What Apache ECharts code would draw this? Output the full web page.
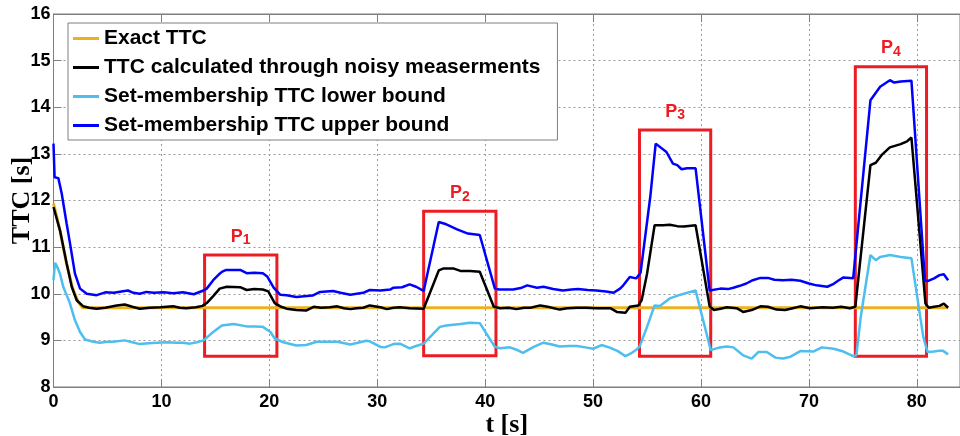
<!DOCTYPE html>
<html>
<head>
<meta charset="utf-8">
<title>TTC</title>
<script src="https://cdn.jsdelivr.net/npm/echarts@6/dist/echarts.min.js"></script>
<style>
  html, body { margin: 0; padding: 0; background: #fff; }
  #main { width: 960px; height: 436px; }
</style>
</head>
<body>
<div id="main"></div>
<script>
// t [s], TTC [s]
var exactTTC = [[0,11.94],[0.6,11.36],[1.2,10.65],[1.8,10.1],[2.3,9.82],[2.7,9.7],[82.9,9.7]];

var noisyTTC = [[0,11.86],[0.6,11.36],[1.22,10.65],[1.69,10.15],[2.15,9.86],[2.76,9.73],[3.3,9.7],[4.0,9.68],[4.8,9.7],[5.86,9.75],[6.6,9.77],[7.3,9.72],[8.0,9.68],[8.9,9.7],[9.9,9.71],[11.1,9.73],[11.7,9.7],[12.3,9.69],[13.2,9.71],[13.8,9.74],[14.2,9.8],[14.8,9.95],[15.4,10.11],[16.05,10.15],[17.3,10.14],[17.9,10.08],[18.6,10.1],[19.4,10.09],[19.9,10.05],[20.5,9.8],[21.1,9.72],[21.6,9.68],[22.5,9.65],[23.4,9.64],[24.1,9.72],[24.8,9.7],[25.6,9.71],[26.3,9.73],[26.9,9.69],[27.5,9.67],[28.1,9.69],[28.7,9.7],[29.3,9.75],[30.3,9.71],[30.9,9.67],[31.5,9.7],[32.1,9.71],[33.0,9.69],[34.3,9.68],[35.7,10.5],[36.1,10.54],[37.1,10.54],[37.7,10.49],[38.6,10.49],[39.5,10.47],[40.8,9.72],[41.4,9.69],[42.2,9.7],[42.9,9.67],[43.6,9.7],[44.2,9.7],[45.1,9.75],[45.8,9.72],[46.9,9.66],[47.6,9.69],[48.5,9.7],[49.4,9.7],[50.3,9.69],[51.6,9.69],[52.2,9.61],[53.0,9.59],[53.4,9.72],[54.2,9.75],[54.5,9.86],[55.0,10.43],[55.7,11.47],[56.5,11.47],[57.1,11.48],[57.8,11.45],[58.4,11.44],[59.5,11.47],[60.8,9.73],[61.2,9.65],[61.8,9.68],[62.4,9.71],[63.3,9.69],[63.9,9.61],[64.7,9.65],[65.5,9.73],[66.2,9.72],[67.0,9.66],[67.8,9.65],[68.5,9.69],[69.2,9.73],[70.1,9.69],[71.3,9.71],[72.2,9.7],[73.0,9.72],[73.8,9.69],[74.3,9.72],[75.7,12.76],[76.2,12.81],[76.8,12.99],[77.5,13.14],[78.5,13.21],[79.1,13.27],[79.5,13.35],[80.8,9.79],[81.1,9.7],[81.6,9.72],[82.1,9.74],[82.5,9.79],[82.9,9.7]];

var lowerBound = [[0,10.29],[0.14,10.66],[0.3,10.6],[0.6,10.43],[0.9,10.15],[1.22,9.97],[1.53,9.79],[1.99,9.43],[2.46,9.18],[2.92,9.02],[3.7,8.97],[4.3,8.95],[5.0,8.97],[5.5,8.97],[6.6,9.0],[7.3,8.96],[8.0,8.92],[8.8,8.94],[9.6,8.95],[10.5,8.96],[11.4,8.95],[12.0,8.95],[12.65,8.93],[13.3,8.96],[13.9,9.0],[14.8,9.18],[15.6,9.32],[16.7,9.35],[17.9,9.3],[18.6,9.3],[19.4,9.29],[20.1,9.18],[20.5,9.04],[21.3,8.96],[22.5,8.89],[23.4,8.9],[24.4,8.97],[25.0,8.97],[26.3,8.97],[27.5,8.91],[28.2,8.95],[29.0,8.99],[29.3,8.98],[30.3,8.86],[30.7,8.85],[31.5,8.92],[32.1,8.93],[33.0,8.83],[33.6,8.88],[34.3,8.93],[35.8,9.29],[36.4,9.32],[37.7,9.35],[38.6,9.38],[39.5,9.37],[40.9,8.86],[41.4,8.83],[42.3,8.85],[42.9,8.8],[43.5,8.73],[44.5,8.86],[45.4,8.95],[46.2,8.91],[46.9,8.87],[47.8,8.88],[48.5,8.88],[49.3,8.85],[50.0,8.82],[50.8,8.9],[51.6,8.84],[52.3,8.77],[53.0,8.66],[53.5,8.72],[54.0,8.8],[54.3,8.86],[55.0,9.29],[55.7,9.75],[56.2,9.74],[57.1,9.9],[58.1,9.98],[59.0,10.04],[59.5,10.07],[60.9,8.79],[61.6,8.84],[62.4,8.87],[63.0,8.85],[63.9,8.68],[64.7,8.61],[65.3,8.75],[66.1,8.75],[66.9,8.63],[67.6,8.61],[68.3,8.65],[69.2,8.77],[70.4,8.76],[71.2,8.85],[72.3,8.82],[73.2,8.76],[74.1,8.66],[74.4,8.68],[74.8,9.5],[75.7,10.83],[76.2,10.72],[76.6,10.79],[77.5,10.83],[78.5,10.79],[79.5,10.76],[80.6,9.07],[81.0,8.75],[81.6,8.76],[82.1,8.78],[82.4,8.78],[82.9,8.7]];

var upperBound = [[0,13.22],[0.1,12.5],[0.45,12.48],[0.76,12.15],[1.22,11.5],[1.53,11.08],[1.99,10.43],[2.46,10.11],[3.08,10.0],[4.0,9.97],[4.8,10.03],[5.6,10.02],[6.3,10.05],[6.9,10.07],[7.4,10.02],[8.0,10.0],[8.6,10.04],[9.3,10.02],[10.2,10.03],[11.1,10.01],[12.0,10.03],[13.0,9.99],[13.9,10.07],[14.2,10.11],[14.8,10.29],[15.4,10.43],[15.6,10.47],[16.0,10.51],[17.3,10.51],[17.9,10.44],[18.6,10.45],[19.4,10.44],[19.8,10.37],[20.4,10.13],[21.0,9.98],[21.6,9.97],[22.5,9.93],[23.5,9.95],[24.0,9.96],[24.7,10.04],[25.9,10.06],[26.6,10.02],[27.5,9.98],[28.1,10.0],[28.7,10.02],[29.3,10.08],[30.3,10.07],[31.2,10.09],[31.5,10.13],[32.3,10.14],[33.0,10.2],[33.6,10.15],[34.3,10.06],[35.7,11.54],[36.4,11.49],[37.4,11.38],[38.4,11.29],[39.5,11.26],[40.9,10.11],[41.3,10.09],[42.6,10.09],[43.4,10.13],[43.9,10.18],[44.8,10.13],[45.4,10.15],[46.3,10.1],[47.2,10.07],[48.0,10.09],[48.6,10.1],[49.5,10.08],[50.3,10.07],[51.2,10.05],[51.9,10.02],[52.5,10.11],[52.8,10.18],[53.4,10.36],[54.0,10.33],[54.4,10.45],[55.3,12.08],[55.8,13.22],[56.8,13.04],[57.4,12.79],[57.8,12.76],[58.2,12.67],[58.7,12.69],[59.5,12.69],[60.8,10.07],[61.8,10.11],[62.5,10.1],[63.0,10.13],[63.6,10.17],[64.2,10.22],[64.8,10.29],[65.5,10.34],[66.2,10.34],[66.8,10.3],[67.6,10.29],[68.4,10.3],[69.2,10.28],[70.0,10.22],[70.7,10.18],[71.7,10.15],[72.2,10.2],[72.7,10.28],[73.2,10.35],[74.1,10.33],[75.7,14.15],[76.6,14.44],[77.5,14.58],[77.9,14.53],[78.5,14.55],[79.5,14.57],[80.75,10.29],[81.0,10.27],[81.6,10.33],[82.1,10.4],[82.5,10.42],[82.9,10.29]];

// highlighted periods: [tStart, tEnd, low, high]
var periods = [[14.0, 20.7, 8.66, 10.83], [34.3, 41.0, 8.67, 11.77], [54.3, 60.9, 8.66, 13.51], [74.3, 80.9, 8.66, 14.87]];
var periodNames = ['1', '2', '3', '4'];

var seriesNames = ['Exact TTC', 'TTC calculated through noisy measerments', 'Set-membership TTC lower bound', 'Set-membership TTC upper bound'];

var sans = 'Liberation Sans, Arial, sans-serif';
var serif = 'Liberation Serif, Times New Roman, serif';

var boxData = periods.map(function (p, i) {
  return [
    { xAxis: p[0], yAxis: p[3], label: { formatter: '{p|P}{s|' + periodNames[i] + '}' } },
    { xAxis: p[1], yAxis: p[2] }
  ];
});

function lineSeries(name, data, color, width) {
  return {
    name: name,
    type: 'line',
    data: data,
    symbol: 'none',
    animation: false,
    lineStyle: { color: color, width: width },
    itemStyle: { color: color }
  };
}

var chart = echarts.init(document.getElementById('main'));
var option = {
  animation: false,
  grid: { left: 53.5, right: 0, top: 14, bottom: 49, show: true, borderColor: '#7f7f7f', borderWidth: 1, containLabel: false, outerBoundsMode: 'none' },
  legend: {
    data: seriesNames,
    orient: 'vertical',
    left: 68,
    top: 23,
    padding: [5, 17, 4, 5],
    itemGap: 8,
    itemWidth: 26,
    itemHeight: 3,
    icon: 'rect',
    backgroundColor: '#fff',
    borderColor: '#7f7f7f',
    borderWidth: 1,
    textStyle: { fontFamily: sans, fontWeight: 'bold', fontSize: 21, color: '#000' }
  },
  xAxis: [{
    type: 'value',
    min: 0,
    max: 84,
    interval: 10,
    name: 't [s]',
    nameLocation: 'middle',
    nameGap: 25,
    nameMoveOverlap: false,
    nameTextStyle: { fontFamily: serif, fontWeight: 'bold', fontSize: 26, color: '#000' },
    axisLine: { lineStyle: { color: '#7f7f7f' } },
    axisTick: { inside: true, length: 8, lineStyle: { color: '#7f7f7f' } },
    axisLabel: { fontFamily: sans, fontWeight: 'bold', fontSize: 18, color: '#000', margin: 6, showMaxLabel: false },
    splitLine: { lineStyle: { color: '#999', type: [2, 3], width: 1 } }
  }, {
    type: 'value',
    position: 'top',
    min: 0,
    max: 84,
    interval: 10,
    axisLine: { show: true, lineStyle: { color: '#7f7f7f' } },
    axisTick: { show: true, inside: true, length: 8, lineStyle: { color: '#7f7f7f' } },
    axisLabel: { show: false },
    splitLine: { show: false }
  }],
  yAxis: {
    type: 'value',
    min: 8,
    max: 16,
    interval: 1,
    name: 'TTC [s]',
    nameLocation: 'middle',
    nameGap: 18,
    nameMoveOverlap: false,
    nameTextStyle: { fontFamily: serif, fontWeight: 'bold', fontSize: 26, color: '#000' },
    axisLine: { show: true, lineStyle: { color: '#7f7f7f' } },
    axisTick: { show: true, inside: true, length: 8, lineStyle: { color: '#7f7f7f' } },
    axisLabel: { fontFamily: sans, fontWeight: 'bold', fontSize: 18, color: '#000', margin: 3 },
    splitLine: { lineStyle: { color: '#999', type: [2, 3], width: 1 } }
  },
  series: [
    lineSeries(seriesNames[0], exactTTC, '#EDB120', 3),
    lineSeries(seriesNames[1], noisyTTC, '#000000', 2.5),
    lineSeries(seriesNames[2], lowerBound, '#4DBEEE', 2.5),
    lineSeries(seriesNames[3], upperBound, '#0000FF', 2.5),
    {
      name: 'periods',
      type: 'line',
      data: [],
      z: 5,
      markArea: {
        silent: true,
        itemStyle: { color: 'rgba(0,0,0,0)', borderColor: '#ED1C24', borderWidth: 3 },
        label: {
          show: true,
          position: 'top',
          distance: 6,
          rich: {
            p: { fontFamily: sans, fontWeight: 'bold', fontSize: 18, color: '#ED1C24' },
            s: { fontFamily: sans, fontWeight: 'bold', fontSize: 14, color: '#ED1C24', padding: [8, 0, 0, 0] }
          }
        },
        data: boxData
      }
    }
  ]
};
chart.setOption(option);
</script>
</body>
</html>
